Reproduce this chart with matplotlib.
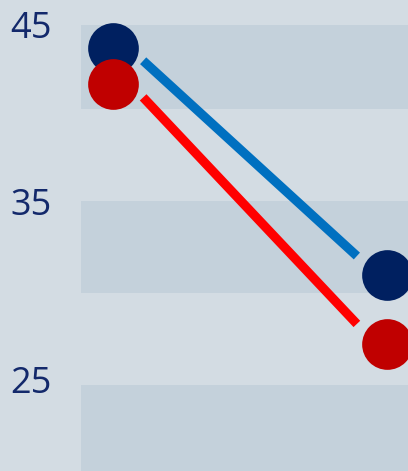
import matplotlib
matplotlib.use("Agg")
import matplotlib.pyplot as plt
from matplotlib.transforms import ScaledTranslation

# ---- data ----
categories = [0, 1]
series_navy = [43.29, 30.98]
series_red = [41.33, 27.23]
# connector segments (drawn separately, slightly inset from the dots)
connector_x = [0.11, 0.89]
connector_navy = [42.62, 32.01]
connector_red = [40.63, 28.32]
ytick_values = [45, 35, 25]
ytick_labels = ["45", "35", "25"]
band_lows = [40, 30, 20]
band_highs = [44.57, 35, 25]

BG = "#d3dce3"
BAND = "#c4d1db"
TXT = "#13296b"

fig = plt.figure(figsize=(4.08, 4.71), dpi=100, facecolor=BG)
ax = fig.add_axes([81/408, 0, 327/408, 1])
ax.set_facecolor(BG)
ax.set_xlim(-0.1168, 1.0766)
ax.set_ylim(20.33, 45.92)

for lo, hi in zip(band_lows, band_highs):
    ax.axhspan(lo, hi, color=BAND, lw=0, zorder=0)

ax.plot(connector_x, connector_navy, color="#0070c0", lw=6.6,
        solid_capstyle="butt", zorder=2)
ax.plot(connector_x, connector_red, color="#ff0000", lw=6.6,
        solid_capstyle="butt", zorder=2)

ax.plot(categories, series_navy, "o", ms=36.5, color="#002060",
        mec="none", zorder=3, clip_on=False)
ax.plot(categories, series_red, "o", ms=36.5, color="#c00000",
        mec="none", zorder=4, clip_on=False)

ax.set_yticks(ytick_values)
ax.set_yticklabels(ytick_labels, fontfamily="Open Sans", fontsize=26, color=TXT)
ax.tick_params(axis="y", length=0, pad=21)
ax.set_xticks([])
for s in ax.spines.values():
    s.set_visible(False)

# label spacing in the reference is slightly tighter than the band spacing
# (vertical pixel shift, positive = up)
label_shift_px = [-8, -1, 6]
for lab, dy in zip(ax.get_yticklabels(), label_shift_px):
    lab.set_transform(lab.get_transform() +
                      ScaledTranslation(0, dy / fig.dpi, fig.dpi_scale_trans))

fig.savefig("out.png", dpi=100, facecolor=BG)
